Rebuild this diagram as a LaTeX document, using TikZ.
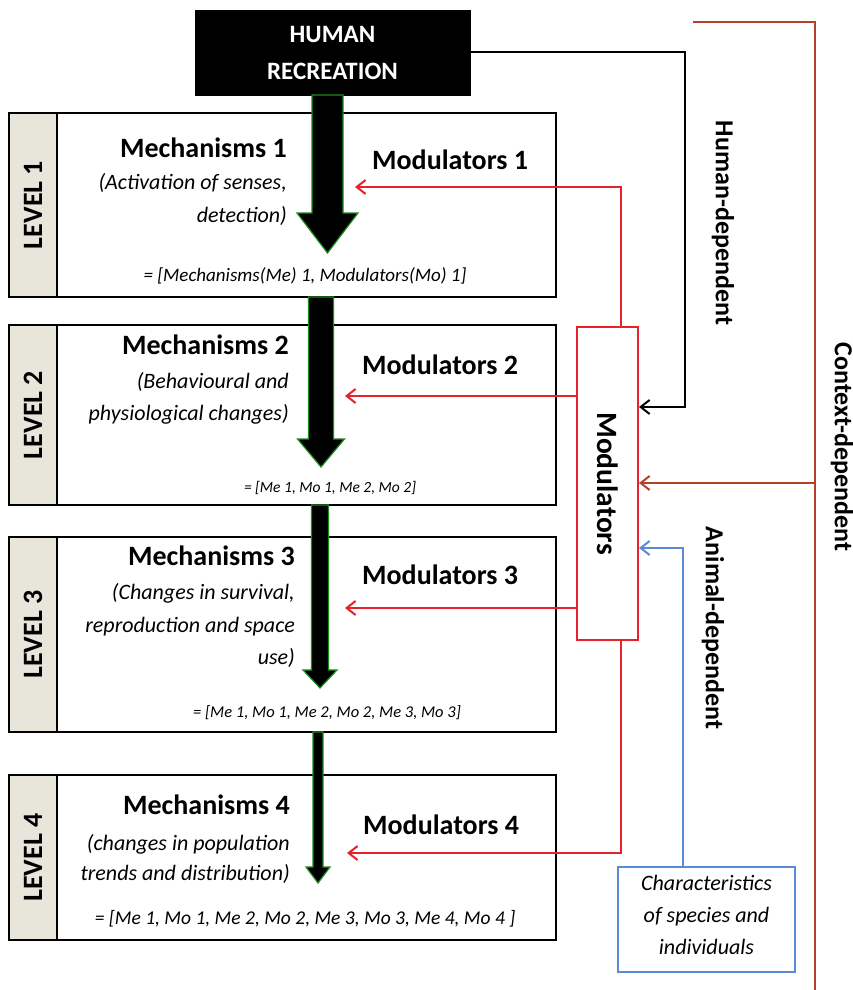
\documentclass[tikz,border=0pt]{standalone}
\usepackage{fontspec}
\setmainfont{Carlito}
\usetikzlibrary{arrows.meta,calc}
\definecolor{modred}{HTML}{E8212B}
\definecolor{ctxbrown}{HTML}{B5402A}
\definecolor{animblue}{HTML}{5B8BD6}
\definecolor{stripfill}{HTML}{E8E5DA}
\definecolor{glowgreen}{HTML}{1E8C1E}
\newcommand{\fsz}[1]{\fontsize{#1}{#1}\selectfont}
\newcommand{\fatarrow}[5]{%
  \filldraw[fatarrowstyle]
   ($(#1)+(-#3,0)$) -- ($(#2)+(-#3,-#5)$) -- ($(#2)+(-#4,-#5)$) -- (#2) --
   ($(#2)+(#4,-#5)$) -- ($(#2)+(#3,-#5)$) -- ($(#1)+(#3,0)$) -- cycle;}
\begin{document}
\begin{tikzpicture}[x=1pt,y=-1pt,
  levelbox/.style={draw=black, fill=white, line width=2.2pt, minimum width=499pt, inner sep=0pt, outer sep=0pt},
  levelstrip/.style={draw=black, fill=stripfill, line width=2.2pt, minimum width=48pt, inner sep=0pt, outer sep=0pt},
  leveltext/.style={rotate=90, font=\bfseries\fsz{28}},
  mechtext/.style={anchor=mid east, font=\bfseries\fsz{28}, inner sep=0pt},
  desctext/.style={anchor=mid east, font=\itshape\fsz{22}, inner sep=0pt},
  modtext/.style={anchor=mid west, font=\bfseries\fsz{28}, inner sep=0pt},
  formtext/.style={anchor=mid, font=\itshape, inner sep=0pt},
  fatarrowstyle/.style={fill=black, draw=glowgreen, line width=1.2pt, line join=miter},
  barb/.style={-{Straight Barb[length=9pt,width=14pt,line width=2pt]}},
  modline/.style={draw=modred, line width=2pt},
  humline/.style={draw=black, line width=2pt},
  ctxline/.style={draw=ctxbrown, line width=2pt},
  animline/.style={draw=animblue, line width=2pt},
  deptext/.style={rotate=-90, font=\bfseries\fsz{26}, inner sep=0pt}
]
\useasboundingbox (0,0) rectangle (853,990);
\fill[white] (0,0) rectangle (853,990);

% level boxes
\node[levelbox, minimum height=184pt] (L1) at (306.5,205) {};
\node[levelstrip, minimum height=184pt] (S1) at (33,205) {};
\node[levelbox, minimum height=180pt] (L2) at (306.5,415) {};
\node[levelstrip, minimum height=180pt] (S2) at (33,415) {};
\node[levelbox, minimum height=195pt] (L3) at (306.5,634.5) {};
\node[levelstrip, minimum height=195pt] (S3) at (33,634.5) {};
\node[levelbox, minimum height=165pt] (L4) at (306.5,857.5) {};
\node[levelstrip, minimum height=165pt] (S4) at (33,857.5) {};

\node[leveltext] (T1) at (S1) {LEVEL 1};
\node[leveltext] (T2) at (S2) {LEVEL 2};
\node[leveltext] (T3) at (S3) {LEVEL 3};
\node[leveltext] (T4) at (S4) {LEVEL 4};

% human recreation
\node[fill=black, draw=black, minimum width=275pt, minimum height=85pt, inner sep=0pt,
      text=white, font=\bfseries\fontsize{25}{37}\selectfont, align=center] (H) at (332.5,52.5) {HUMAN\\RECREATION};

% fat arrows
\coordinate (a1s) at (327.5,95);   \coordinate (a1e) at (327.5,253);
\coordinate (a2s) at (321,297);    \coordinate (a2e) at (321,467);
\coordinate (a3s) at (320,505);    \coordinate (a3e) at (320,688);
\coordinate (a4s) at (318,732);    \coordinate (a4e) at (318,883);
\fatarrow{a1s}{a1e}{15.5}{30.5}{40}
\fatarrow{a2s}{a2e}{12.5}{23.5}{28}
\fatarrow{a3s}{a3e}{8.5}{17}{18}
\fatarrow{a4s}{a4e}{5}{12}{16}

% level texts
\node[mechtext] (m1) at (287,155) {Mechanisms 1};
\node[desctext] (d1a) at (287,187) {(Activation of senses,};
\node[desctext] (d1b) at (287,220) {detection)};
\node[modtext] (mo1) at (372,167) {Modulators 1};
\node[formtext, font=\itshape\fsz{19}] (f1) at (305,279) {= [Mechanisms(Me) 1, Modulators(Mo) 1]};

\node[mechtext] (m2) at (289,352) {Mechanisms 2};
\node[desctext] (d2a) at (289,386) {(Behavioural and};
\node[desctext] (d2b) at (289,418) {physiological changes)};
\node[modtext] (mo2) at (362,372) {Modulators 2};
\node[formtext, font=\itshape\fsz{15.5}] (f2) at (330,490) {= [Me 1, Mo 1, Me 2, Mo 2]};

\node[mechtext] (m3) at (295,563) {Mechanisms 3};
\node[desctext] (d3a) at (295,597) {(Changes in survival,};
\node[desctext] (d3b) at (295,630) {reproduction and space};
\node[desctext] (d3c) at (295,662) {use)};
\node[modtext] (mo3) at (362,582) {Modulators 3};
\node[formtext, font=\itshape\fsz{16.5}] (f3) at (327,715) {= [Me 1, Mo 1, Me 2, Mo 2, Me 3, Mo 3]};

\node[mechtext] (m4) at (290,812) {Mechanisms 4};
\node[desctext] (d4a) at (290,848) {(changes in population};
\node[desctext] (d4b) at (290,878) {trends and distribution)};
\node[modtext] (mo4) at (363,832) {Modulators 4};
\node[formtext, font=\itshape\fsz{19.5}] (f4) at (305,922) {= [Me 1, Mo 1, Me 2, Mo 2, Me 3, Mo 3, Me 4, Mo 4 ]};

% modulators box
\node[draw=modred, fill=white, line width=2pt, minimum width=61pt, minimum height=313pt, inner sep=0pt] (M) at (607.5,483.5) {};
\node[rotate=-90, font=\bfseries\fsz{29.5}] (Mt) at (M) {Modulators};

% characteristics box
\node[draw=animblue, fill=white, line width=2pt, minimum width=177pt, minimum height=105pt, inner sep=0pt] (C) at (706.5,919.5) {};
\node[font=\itshape\fsz{22}, anchor=mid] (c1t) at (706.5,888) {Characteristics};
\node[font=\itshape\fsz{22}, anchor=mid] (c2t) at (706.5,920) {of species and};
\node[font=\itshape\fsz{22}, anchor=mid] (c3t) at (706.5,952) {individuals};

% red connectors
\coordinate (t1) at (355,187); \coordinate (r1) at (621,187);
\coordinate (t2) at (345,396);
\coordinate (t3) at (345,608);
\coordinate (t4) at (347,853); \coordinate (r4) at (621,853);
\draw[modline, barb] (M.north -| r1) -- (r1) -- (t1);
\draw[modline, barb] (M.west |- t2) -- (t2);
\draw[modline, barb] (M.west |- t3) -- (t3);
\draw[modline, barb] (M.south -| r4) -- (r4) -- (t4);

% human-dependent
\coordinate (hk) at (685,407);
\draw[humline, barb] (H.east) -| (hk) -- (M.east |- hk);
\node[deptext] (hd) at (723,223) {Human-dependent};

% context-dependent
\coordinate (c0) at (693,22); \coordinate (cc1) at (815,22); \coordinate (cc2) at (815,990);
\coordinate (cc3) at (815,483);
\draw[ctxline] (c0) -- (cc1) -- (cc2);
\draw[ctxline, barb] (cc3) -- (M.east |- cc3);
\node[deptext] (cd) at (842,447) {Context-dependent};

% animal-dependent
\coordinate (b1) at (683,548);
\draw[animline, barb] (C.north -| b1) -- (b1) -- (M.east |- b1);
\node[deptext] (ad) at (713,628) {Animal-dependent};
\end{tikzpicture}
\end{document}
